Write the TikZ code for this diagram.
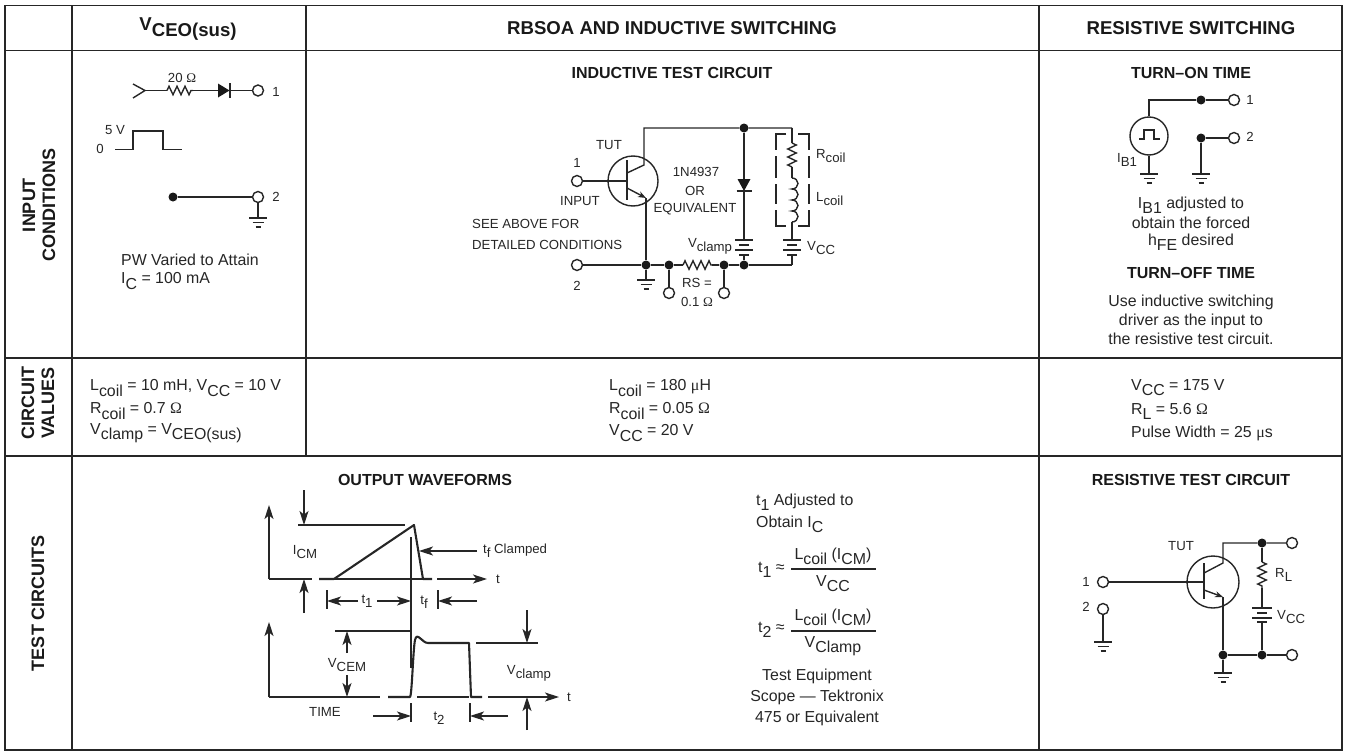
\documentclass[tikz,border=0pt]{standalone}
\usepackage{fontspec}
\setmainfont{Liberation Sans}
\newfontfamily\symf{Liberation Serif}
\usetikzlibrary{arrows.meta,decorations.pathmorphing}
\newcommand{\sbs}[1]{\raisebox{-.32em}{#1}}
\newcommand{\Om}{{\symf Ω}}
\newcommand{\mic}{{\symf μ}}
\tikzset{
  x=1pt,y=-1pt,
  grid/.style={line width=1.7pt,color=black!85},
  wire/.style={line width=1.4pt,color=black!85},
  thinw/.style={line width=1.1pt,color=black!85},
  thickw/.style={line width=2.1pt,color=black!85,line join=round},
  res/.style={wire,decorate,decoration={zigzag,amplitude=4.2pt,segment length=8pt}},
  arroww/.style={line width=1.1pt,color=black!85,-{Stealth[length=14pt,width=9pt,inset=3.5pt]}},
  junc/.style={circle,fill=black!90,draw=none,inner sep=0pt,minimum size=9pt},
  term/.style={circle,draw=black!85,line width=1.4pt,fill=white,inner sep=0pt,minimum size=11pt},
  txt/.style={inner sep=0pt,font=\fontsize{15.9}{18}\selectfont,text=black!85},
  ltxt/.style={txt,anchor=west},
  small/.style={txt,font=\fontsize{13.2}{15}\selectfont},
  smallw/.style={small,anchor=west},
  head/.style={inner sep=0pt,font=\fontsize{18.6}{20}\selectfont\bfseries,text=black!90},
  sub/.style={inner sep=0pt,font=\fontsize{16}{18}\selectfont\bfseries,text=black!90},
  side/.style={inner sep=0pt,rotate=90,align=center,font=\fontsize{18}{20}\selectfont\bfseries,text=black!90},
  gnd/.pic={\draw[wire] (-9,0)--(9,0) (-5.5,4.5)--(5.5,4.5) (-2.5,9)--(2.5,9);},
  batt/.pic={\draw[wire] (-9,0)--(9,0) (-5,5)--(5,5) (-9,10)--(9,10) (-5,15)--(5,15);},
  batr/.pic={\draw[wire] (-10,0)--(10,0) (-5,5)--(5,5) (-10,10)--(10,10) (-5,14)--(5,14);},
}
\newcommand{\arr}[5]{\coordinate (#1a) at (#2,#3);\coordinate (#1b) at (#4,#5);\draw[arroww] (#1a)--(#1b);}
\newcommand{\thn}[5]{\coordinate (#1a) at (#2,#3);\coordinate (#1b) at (#4,#5);\draw[thinw] (#1a)--(#1b);}
\begin{document}
\begin{tikzpicture}
\useasboundingbox (0,0) rectangle (1346,752);
% table
\draw[grid] (5,5.5) rectangle (1342,750);
\draw[grid] (5,50.5)--(1342,50.5) (5,358)--(1342,358) (5,456)--(1342,456);
\draw[grid] (72,5.5)--(72,750) (306,5.5)--(306,456) (1039,5.5)--(1039,750);
% headers
\node[head] (h1) at (188,29) {V\sbs{CEO(sus)}};
\node[head] (h2) at (672,28) {RBSOA AND INDUCTIVE SWITCHING};
\node[head] (h3) at (1191,28) {RESISTIVE SWITCHING};
\node[side] (s1) at (39,205) {INPUT\\CONDITIONS};
\node[side] (s2) at (38,403) {CIRCUIT\\VALUES};
\node[side] (s3) at (38,603) {TEST CIRCUITS};
% VCEO input
\coordinate (c1) at (133,84);\coordinate (c2) at (145,90.5);\coordinate (c3) at (133,98);
\draw[wire] (c1)--(c2)--(c3);
\coordinate (r1a) at (167,90.5);\coordinate (r1b) at (193,90.5);
\draw[wire] (c2)--(r1a);\draw[res] (r1a)--(r1b);
\coordinate (d1a) at (218,90.5);\coordinate (d1b) at (229.5,90.5);
\node[term] (t1) at (258,90.5) {};
\draw[wire] (r1b)--(d1a) (d1b)--(t1);
\fill[black!90] (218,83.5)--(229.5,90.5)--(218,97.5)--cycle;
\draw[wire] (230,83)--(230,98);
\node[small] (l20) at (182,78) {20 \Om};
\node[small] (l1) at (276,92) {1};
\node[small] (l5v) at (115,130) {5 V};
\node[small] (l0) at (100,149) {0};
\draw[wire] (115,149.5)--(133,149.5)--(133,131)--(163,131)--(163,149.5)--(182,149.5);
\node[junc] (j1) at (173,197) {};
\node[term] (t2) at (258,197) {};
\draw[wire] (j1)--(t2);
\coordinate (g1) at (258,218);
\draw[wire] (t2)--(g1);
\pic at (g1) {gnd};
\node[small] (l2) at (276,197) {2};
\node[ltxt] (pw) at (121,260) {PW Varied to Attain};
\node[ltxt] (ic) at (121,281) {I\sbs{C} = 100 mA};
% inductive circuit
\node[sub] (it) at (672,73) {INDUCTIVE TEST CIRCUIT};
\node[circle,draw=black!85,line width=1.4pt,minimum size=50pt,inner sep=0pt] (q1) at (633,181) {};
\node[term] (ti1) at (577,181) {};
\node[term] (ti2) at (577,265) {};
\coordinate (b1) at (627,181);
\draw[wire] (ti1)--(b1);
\draw[wire] (627,160)--(627,200);
\coordinate (ce1) at (644,165);\coordinate (tl) at (644,128);\coordinate (tr) at (792,128);
\node[junc] (jt) at (744,128) {};
\draw[wire] (627,173)--(ce1)--(tl)--(jt)--(tr);
\coordinate (em1) at (646,198);
\draw[wire,-{Stealth[length=8pt,width=6pt]}] (627,188)--(em1);
\node[junc] (ja) at (646,265) {};
\node[junc] (jb) at (669,265) {};
\node[junc] (jc) at (724,265) {};
\node[junc] (jd) at (744,265) {};
\coordinate (br) at (792,265);
\coordinate (r2a) at (683,265);\coordinate (r2b) at (712,265);
\draw[wire] (em1)--(ja) (ti2)--(ja)--(jb)--(r2a) (r2b)--(jc)--(jd)--(br);
\draw[res] (r2a)--(r2b);
\coordinate (g2) at (646,280);
\draw[wire] (ja)--(g2);\pic at (g2) {gnd};
\node[term] (t3) at (669,293) {};
\node[term] (t4) at (724,293) {};
\draw[wire] (jb)--(t3) (jc)--(t4);
% clamp diode
\coordinate (d2a) at (744,179);\coordinate (d2b) at (744,191);\coordinate (b2a) at (744,240);\coordinate (b2b) at (744,255);
\draw[wire] (jt)--(d2a) (d2b)--(b2a) (b2b)--(jd);
\fill[black!90] (737.5,179)--(750.5,179)--(744,191)--cycle;
\draw[wire] (736.5,191)--(751.5,191);
\pic at (b2a) {batt};
% coil branch
\coordinate (rc1) at (792,143);\coordinate (rc2) at (792,167);\coordinate (lc1) at (792,178);\coordinate (lc2) at (792,222);
\coordinate (b3a) at (792,240);\coordinate (b3b) at (792,255);
\draw[wire] (tr)--(rc1) (rc2)--(lc1) (lc2)--(b3a) (b3b)--(br);
\draw[res] (rc1)--(rc2);
\draw[wire] (lc1) arc[start angle=90,end angle=-90,x radius=6pt,y radius=5.5pt] arc[start angle=90,end angle=-90,x radius=6pt,y radius=5.5pt] arc[start angle=90,end angle=-90,x radius=6pt,y radius=5.5pt] arc[start angle=90,end angle=-90,x radius=6pt,y radius=5.5pt];
\pic at (b3a) {batt};
\draw[wire] (786,134)--(776,134)--(776,150) (776,156)--(776,178) (776,184)--(776,204) (776,210)--(776,226)--(786,226)
 (798,134)--(809,134)--(809,150) (809,156)--(809,178) (809,184)--(809,204) (809,210)--(809,226)--(798,226);
\node[small] (ltut) at (609,145) {TUT};
\node[small] (lq1) at (577,163) {1};
\node[small] (linp) at (580,201) {INPUT};
\node[small,anchor=west] (ls1) at (472,224) {SEE ABOVE FOR};
\node[small,anchor=west] (ls2) at (472,245) {DETAILED CONDITIONS};
\node[small] (lq2) at (577,286) {2};
\node[small] (ln1) at (696,172) {1N4937};
\node[small] (ln2) at (695,191) {OR};
\node[small] (ln3) at (695,209) {EQUIVALENT};
\node[small] (lvc) at (710,246) {V\sbs{clamp}};
\node[smallw] (lvcc) at (807,248) {V\sbs{CC}};
\node[smallw] (lrc) at (816,156) {R\sbs{coil}};
\node[smallw] (llc) at (816,199) {L\sbs{coil}};
\node[small] (lrs) at (697,283) {RS =};
\node[small] (lrs2) at (697,302) {0.1 \Om};
% resistive switching
\node[sub] (st1) at (1191,73) {TURN–ON TIME};
\node[circle,draw=black!85,line width=1.4pt,minimum size=38pt,inner sep=0pt] (src) at (1149,136) {};
\coordinate (s1c) at (1149,100);
\node[junc] (js1) at (1201,100) {};
\node[term] (ts1) at (1234,100) {};
\draw[wire] (src.north)--(s1c)--(js1)--(ts1);
\node[junc] (js2) at (1201,138) {};
\node[term] (ts2) at (1234,138) {};
\draw[wire] (js2)--(ts2);
\coordinate (g3) at (1149,174);\coordinate (g4) at (1201,174);
\draw[wire] (src.south)--(g3) (js2)--(g4);
\pic at (g3) {gnd};\pic at (g4) {gnd};
\draw[wire] (1139,139)--(1144,139)--(1144,130)--(1154,130)--(1154,139)--(1160,139);
\node[small] (ls11) at (1250,100) {1};
\node[small] (ls12) at (1250,137) {2};
\node[smallw] (lib) at (1117,160) {I\sbs{B1}};
\node[txt] (x1) at (1191,205) {I\sbs{B1} adjusted to};
\node[txt] (x2) at (1191,223) {obtain the forced};
\node[txt] (x3) at (1191,242) {h\sbs{FE} desired};
\node[sub] (st2) at (1191,273) {TURN–OFF TIME};
\node[txt] (x4) at (1191,302) {Use inductive switching};
\node[txt] (x5) at (1191,321) {driver as the input to};
\node[txt] (x6) at (1191,339) {the resistive test circuit.};
% circuit values
\node[ltxt] (v1) at (90,388) {L\sbs{coil} = 10 mH, V\sbs{CC} = 10 V};
\node[ltxt] (v2) at (90,411) {R\sbs{coil} = 0.7 \Om};
\node[ltxt] (v3) at (90,433) {V\sbs{clamp} = V\sbs{CEO(sus)}};
\node[ltxt] (v4) at (609,388) {L\sbs{coil} = 180 \mic H};
\node[ltxt] (v5) at (609,411) {R\sbs{coil} = 0.05 \Om};
\node[ltxt] (v6) at (609,433) {V\sbs{CC} = 20 V};
\node[ltxt] (v7) at (1131,388) {V\sbs{CC} = 175 V};
\node[ltxt] (v8) at (1131,411) {R\sbs{L} = 5.6 \Om};
\node[ltxt] (v9) at (1131,433) {Pulse Width = 25 \mic s};
% output waveforms
\node[sub] (ow) at (425,480) {OUTPUT WAVEFORMS};
\arr{ax1}{269}{579}{269}{505}
\arr{ax2}{269}{697}{269}{622}
\thn{tb1}{269}{579}{312}{579}
\thn{tb2}{334}{579}{423}{579}
\arr{tb3}{437}{579}{487}{579}
\node[small] (lt1) at (498,579) {t};
\coordinate (w1) at (319,579);\coordinate (w2) at (334,579);\coordinate (w3) at (414,525);\coordinate (w4) at (423,579);\coordinate (w5) at (432,579);
\draw[thickw] (w1)--(w2)--(w3)--(w4)--(w5);
\thn{icm}{298}{525}{405}{525}
\arr{icd}{304}{490}{304}{525}
\arr{icu}{304}{613}{304}{579}
\node[small] (licm) at (305,552) {I\sbs{CM}};
\thn{vc}{411}{537}{411}{668}
\arr{tfa}{477}{551}{419}{551}
\node[smallw] (ltf) at (483,551) {t\sbs{f} Clamped};
\draw[thinw] (327,590)--(327,609);
\draw[thinw] (438,590)--(438,609);
\arr{t1a}{358}{601}{327}{601}
\arr{t1b}{377}{601}{411}{601}
\arr{tfb}{477}{601}{438}{601}
\node[small] (lt1s) at (367,601) {t\sbs{1}};
\node[small] (ltfs) at (424,602) {t\sbs{f}};
\thn{bb1}{269}{697}{380}{697}
\thn{bb2}{417}{697}{469}{697}
\arr{bb3}{488}{697}{559}{697}
\node[small] (lt2) at (569,697) {t};
\coordinate (u1) at (388,697);\coordinate (u2) at (410,697);\coordinate (u3) at (469,643);\coordinate (u4) at (471,697);\coordinate (u5) at (482,697);
\draw[thickw] (u1)--(u2) .. controls (412,695) and (413,650) .. (415,640) .. controls (417,631) and (422,643) .. (428,643) -- (u3)--(u4)--(u5);
\thn{vcem}{335}{631}{411}{631}
\arr{vu}{347}{653}{347}{631}
\arr{vd}{347}{675}{347}{697}
\node[small] (lvcem) at (347,665) {V\sbs{CEM}};
\node[small] (ltime) at (325,712) {TIME};
\draw[thinw] (411,703)--(411,722);
\draw[thinw] (470,703)--(470,722);
\arr{t2a}{373}{716}{411}{716}
\arr{t2b}{508}{716}{470}{716}
\node[small] (lt2s) at (439,718) {t\sbs{2}};
\thn{vcl}{476}{643}{538}{643}
\arr{vcd}{527}{610}{527}{643}
\arr{vcu}{527}{730}{527}{697}
\node[small] (lvcl) at (529,673) {V\sbs{clamp}};
% formulas
\node[ltxt] (f1) at (756,502) {t\sbs{1} Adjusted to};
\node[ltxt] (f2) at (756,524) {Obtain I\sbs{C}};
\node[ltxt] (f3) at (758,570) {t\sbs{1} ≈};
\thn{fb1}{791}{569}{876}{569}
\node[txt] (f4) at (833,556) {L\sbs{coil} (I\sbs{CM})};
\node[txt] (f5) at (833,584) {V\sbs{CC}};
\node[ltxt] (f6) at (758,630) {t\sbs{2} ≈};
\thn{fb2}{791}{631}{876}{631}
\node[txt] (f7) at (833,617) {L\sbs{coil} (I\sbs{CM})};
\node[txt] (f8) at (833,646) {V\sbs{Clamp}};
\node[txt] (f9) at (817,676) {Test Equipment};
\node[txt] (f10) at (817,697) {Scope — Tektronix};
\node[txt] (f11) at (817,718) {475 or Equivalent};
% resistive test circuit
\node[sub] (rt) at (1191,480) {RESISTIVE TEST CIRCUIT};
\node[circle,draw=black!85,line width=1.4pt,minimum size=52pt,inner sep=0pt] (q2) at (1213,582) {};
\node[term] (tr1) at (1103,582) {};
\node[term] (tr2) at (1103,609) {};
\coordinate (g5) at (1103,642);
\draw[wire] (tr2)--(g5);\pic at (g5) {gnd};
\coordinate (b5) at (1204,582);
\draw[wire] (tr1)--(b5);
\draw[wire] (1204,563)--(1204,599);
\coordinate (ce2) at (1223,563);\coordinate (tl2) at (1223,543);
\node[junc] (jr1) at (1262,543) {};
\node[term] (tr3) at (1292,543) {};
\draw[wire] (1204,573)--(ce2)--(tl2)--(jr1)--(tr3);
\coordinate (em2) at (1223,597);
\draw[wire,-{Stealth[length=8pt,width=6pt]}] (1204,590)--(em2);
\node[junc] (jr2) at (1223,655) {};
\node[junc] (jr3) at (1262,655) {};
\node[term] (tr4) at (1292,655) {};
\draw[wire] (em2)--(jr2)--(jr3)--(tr4);
\coordinate (g6) at (1223,673);
\draw[wire] (jr2)--(g6);\pic at (g6) {gnd};
\coordinate (r3a) at (1262,562);\coordinate (r3b) at (1262,588);\coordinate (b6a) at (1262,608);\coordinate (b6b) at (1262,622);
\draw[wire] (jr1)--(r3a) (r3b)--(b6a) (b6b)--(jr3);
\draw[res] (r3a)--(r3b);
\pic at (b6a) {batr};
\node[small] (lr1) at (1086,582) {1};
\node[small] (lr2) at (1086,607) {2};
\node[small] (lrt) at (1181,546) {TUT};
\node[smallw] (lrl) at (1275,575) {R\sbs{L}};
\node[smallw] (lrv) at (1277,617) {V\sbs{CC}};
\end{tikzpicture}
\end{document}
